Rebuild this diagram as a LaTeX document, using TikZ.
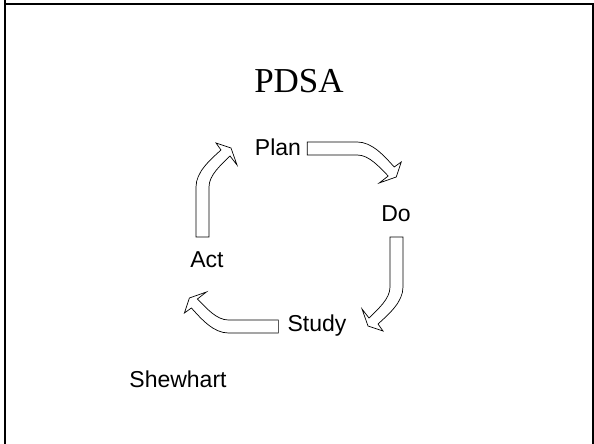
\documentclass[tikz,border=0pt]{standalone}
\usepackage{fontspec}
\setmainfont{Liberation Sans}
\newfontfamily\titlefont{Liberation Serif}
\usetikzlibrary{positioning}

\begin{document}
\begin{tikzpicture}[x=1pt,y=1pt]
  \tikzset{
    label/.style={inner sep=0pt, anchor=base, font=\fontsize{23}{27}\selectfont},
    arrowline/.style={draw=black, fill=white, line width=0.7pt, line join=miter},
    cycle arrow/.pic={
      \path[arrowline] (0,0) -- (50,0) .. controls (65,0) and (77,-14) .. (87,-25)
        -- (94,-20) -- (89,-35) -- (72,-41) -- (81,-34)
        .. controls (72,-25) and (62,-13) .. (50,-13) -- (0,-13) -- cycle;
    }
  }
  \useasboundingbox (0,0) rectangle (594,444);
  % Frame
  \draw[line width=1.6pt] (5,444) -- (5,440) -- (593,440) -- (593,0);
  \draw[line width=1.6pt] (5,440) -- (5,0);
  % Title
  \node[inner sep=0pt, font=\titlefont\fontsize{35}{40}\selectfont] (title) at (299,363) {PDSA};
  % Cycle Nodes
  \node[label] (plan) at (278,288) {Plan};
  \node[label] (do) at (396,222) {Do};
  \node[label] (study) at (317,112) {Study};
  \node[label] (act) at (207,176) {Act};
  \node[label] (shewhart) at (178,56) {Shewhart};
  % Arrows
  \pic at ([shift={(6,14)}]plan.base east) {cycle arrow};
  \pic[rotate=-90] at ([shift={(7,-15)}]do.base) {cycle arrow};
  \pic[rotate=180] at ([shift={(-9,-1)}]study.base west) {cycle arrow};
  \pic[rotate=90] at ([shift={(-11,31)}]act.base) {cycle arrow};
\end{tikzpicture}
\end{document}
